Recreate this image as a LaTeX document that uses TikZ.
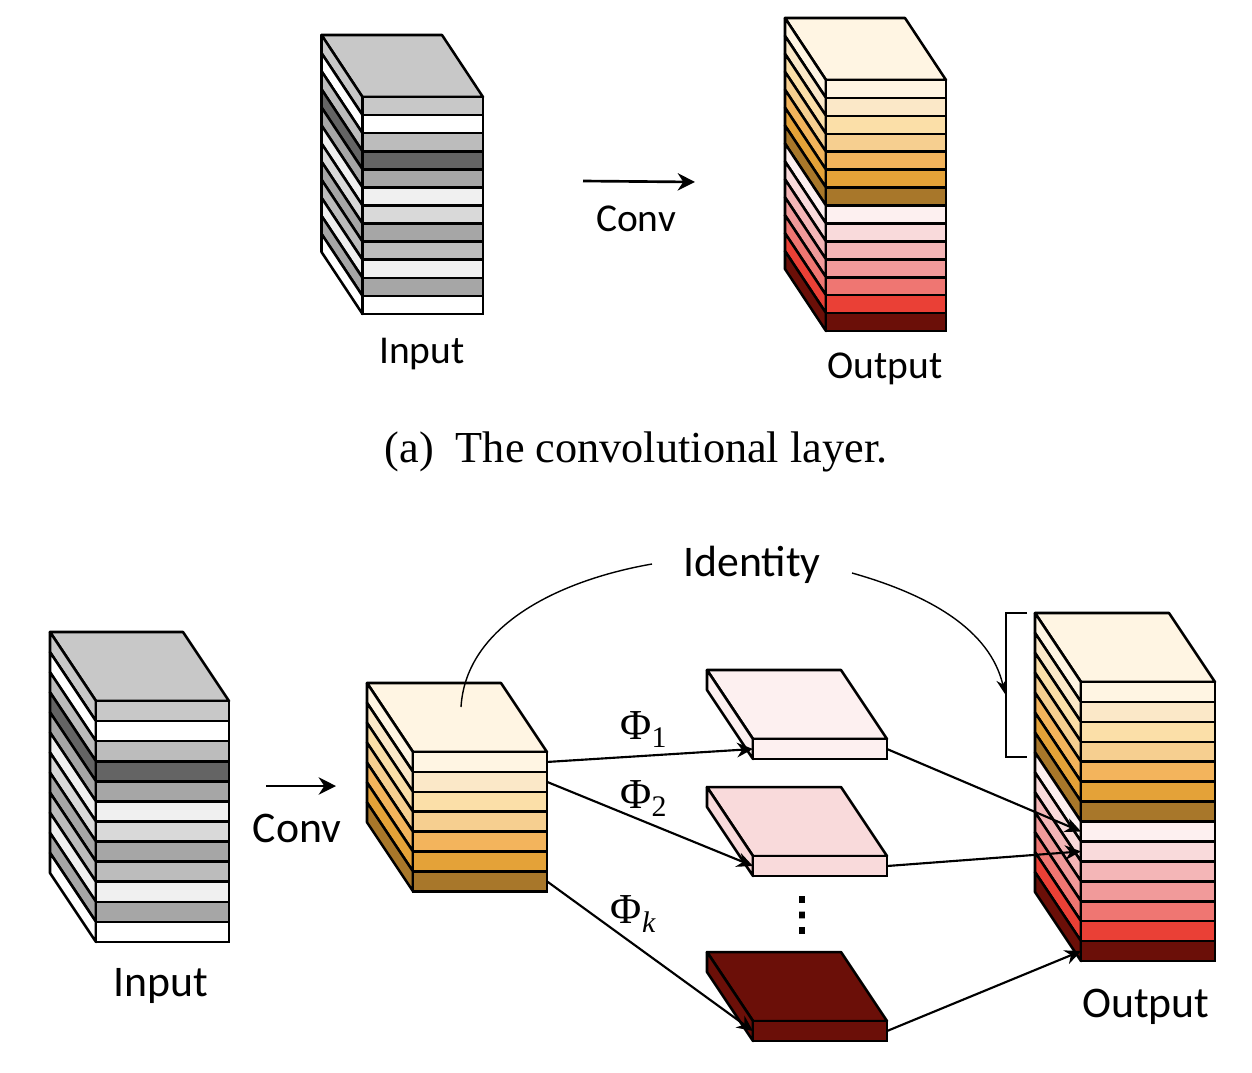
\documentclass[tikz,border=0pt]{standalone}
\usepackage{amsmath}
\usepackage{fontspec}
\setmainfont{Liberation Serif}
\newfontfamily\labelfont{Carlito}
\newfontfamily\dotfont[FakeBold=2.5]{DejaVu Sans}
\usetikzlibrary{arrows.meta}

\definecolor{g1}{HTML}{C8C8C8}
\definecolor{g2}{HTML}{FFFFFF}
\definecolor{g3}{HTML}{BCBCBC}
\definecolor{g4}{HTML}{646464}
\definecolor{g5}{HTML}{A6A6A6}
\definecolor{g6}{HTML}{F0F0F0}
\definecolor{g7}{HTML}{D9D9D9}
\definecolor{o1}{HTML}{FFF5E3}
\definecolor{o2}{HTML}{FBE8C8}
\definecolor{o3}{HTML}{FBDFA8}
\definecolor{o4}{HTML}{F6CF90}
\definecolor{o5}{HTML}{F3B45C}
\definecolor{o6}{HTML}{E4A238}
\definecolor{o7}{HTML}{A8772A}
\definecolor{r1}{HTML}{FDF0F0}
\definecolor{r2}{HTML}{F9DADB}
\definecolor{r3}{HTML}{F4B6B7}
\definecolor{r4}{HTML}{F19A9A}
\definecolor{r5}{HTML}{EF7672}
\definecolor{r6}{HTML}{EA4036}
\definecolor{r7}{HTML}{6B0F08}

\tikzset{
  face/.style = {draw, line width=1.9pt, line join=round},
  layer/.style = {draw, line width=1.9pt, inner sep=0pt, outer sep=0pt},
  small/.style = {font=\labelfont\fontsize{29.6}{32}\selectfont, inner sep=0pt},
  big/.style = {font=\labelfont\fontsize{32.8}{36}\selectfont, inner sep=0pt},
  conv/.style = {-{Stealth[length=13pt,width=13pt]}, line width=2pt},
  flow/.style = {-{Stealth[length=12pt,width=11pt]}, line width=1.6pt},
  thin line/.style = {line width=1.05pt},
  phi/.style = {font=\fontsize{32}{36}\selectfont, inner sep=0pt}
}

% name, x, y, width, layer height, depth x, depth y, colours
\newcommand{\layerstack}[8]{
  \foreach \col [count=\i] in {#8} {
    \ifnum\i=1
      \draw[face, fill=\col] (#2,#3) -- (#2-#6,#3-#7) -- (#2+#4-#6,#3-#7) -- (#2+#4,#3) -- cycle;
    \fi
    \pgfmathsetmacro{\ya}{#3+(\i-1)*#5}
    \pgfmathsetmacro{\yb}{#3+\i*#5}
    \pgfmathsetmacro{\ym}{#3+(\i-0.5)*#5}
    \draw[face, fill=\col] (#2,\ya) -- (#2-#6,\ya-#7) -- (#2-#6,\yb-#7) -- (#2,\yb) -- cycle;
    \node[layer, fill=\col, minimum width=#4*0.75pt, minimum height=#5*0.75pt] (#1_\i) at (#2+#4/2,\ym) {};
  }
}

\begin{document}
\begin{tikzpicture}[x=0.75pt, y=-0.75pt]
  \useasboundingbox (0,0) rectangle (1252,1072);

  % top picture
  \layerstack{in_a}{362.5}{97}{120.5}{18.08}{41}{62}{g1,g2,g3,g4,g5,g6,g7,g5,g3,g6,g5,g2}
  \layerstack{out_a}{826}{80}{120}{17.93}{41}{62}{o1,o2,o3,o4,o5,o6,o7,r1,r2,r3,r4,r5,r6,r7}

  \coordinate (c_1) at (583,181);
  \coordinate (c_2) at (695,182);
  \draw[conv] (c_1) -- (c_2);

  \node[small] (conv_a) at (636,219) {Conv};
  \node[small] (input_a) at (422,354) {Input};
  \node[small] (output_a) at (885,369) {Output};
  \node[inner sep=0pt, font=\fontsize{33.2}{38}\selectfont] (cap_a) at (636,452) {(a)\hspace{0.5em}The convolutional layer.};

  % bottom picture
  \layerstack{in_b}{96}{701}{133}{20.08}{46}{69}{g1,g2,g3,g4,g5,g6,g7,g5,g3,g6,g5,g2}
  \layerstack{mid}{413}{752}{134}{19.9}{46}{69}{o1,o2,o3,o4,o5,o6,o7}
  \layerstack{slab_1}{753}{739}{134}{20}{46}{69}{r1}
  \layerstack{slab_2}{753}{856}{134}{20}{46}{69}{r2}
  \layerstack{slab_k}{753}{1021}{134}{20}{46}{69}{r7}
  \layerstack{out_b}{1081}{682}{134}{19.93}{46}{69}{o1,o2,o3,o4,o5,o6,o7,r1,r2,r3,r4,r5,r6,r7}

  \coordinate (c_3) at (266,786);
  \coordinate (c_4) at (336,786);
  \draw[conv] (c_3) -- (c_4);

  \node[big] (conv_b) at (297,828) {Conv};
  \node[big] (input_b) at (161,986) {Input};
  \node[big] (output_b) at (1146,1007) {Output};
  \node[big] (identity) at (752,565) {Identity};
  \node[inner sep=0pt, font=\dotfont\fontsize{34}{38}\selectfont] (dots) at (802,915) {⋮};

  \draw[flow] (mid_1.east) -- node[phi, pos=0.47, above, yshift=5.5pt] {Φ\textsubscript{1}} (slab_1_1.west);
  \draw[flow] (mid_2.east) -- node[phi, pos=0.47, above, yshift=3pt] {Φ\textsubscript{2}} (slab_2_1.west);
  \draw[flow] (mid_7.east) -- node[phi, pos=0.42, above, yshift=8pt] {Φ\textsubscript{\itshape k}} (slab_k_1.west);

  \draw[flow] (slab_1_1.east) -- (out_b_8.west);
  \draw[flow] (slab_2_1.east) -- (out_b_9.west);
  \draw[flow] (slab_k_1.east) -- (out_b_14.west);

  % identity link and bracket
  \coordinate (id_1) at (461,707);
  \coordinate (id_2) at (652,564);
  \coordinate (id_3) at (852,573);
  \coordinate (id_4) at (1005,694);
  \draw[thin line] (id_1) .. controls (466,625) and (560,580) .. (id_2);
  \draw[thin line, -{Stealth[length=11pt,width=8pt]}] (id_3) .. controls (930,595) and (990,630) .. (id_4);
  \draw[thin line] (1027,613) -- (1006,613) -- (1006,757) -- (1027,757);
\end{tikzpicture}
\end{document}
